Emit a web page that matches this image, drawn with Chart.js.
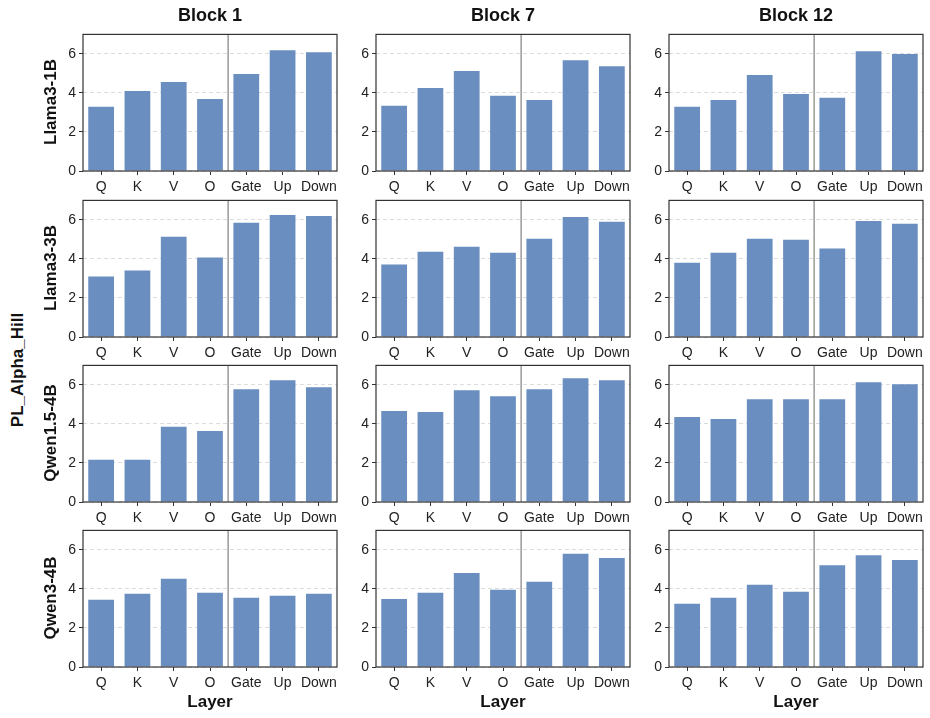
<!DOCTYPE html>
<html>
<head>
<meta charset="utf-8">
<script src="https://cdn.jsdelivr.net/npm/chart.js@4.4.1/dist/chart.umd.min.js"></script>
<style>
body{margin:0;background:#fff;width:930px;height:718px;position:relative;overflow:hidden;font-family:"Liberation Sans",Arial,sans-serif}
canvas{position:absolute}
.lbl{position:absolute;font-weight:bold;color:#111;white-space:nowrap;transform:translate(-50%,-50%);z-index:2}
.rot{transform:translate(-50%,-50%) rotate(-90deg)}
</style>
</head>
<body>
<script>
const layers = ['Q','K','V','O','Gate','Up','Down'];
const blocks = ['Block 1','Block 7','Block 12'];
const models = ['Llama3-1B','Llama3-3B','Qwen1.5-4B','Qwen3-4B'];
const yTicks = [0,2,4,6];

// one row per block (1, 7, 12)
const llama1B = [
  [3.29,4.10,4.56,3.69,4.97,6.19,6.08],
  [3.34,4.25,5.12,3.85,3.64,5.68,5.37],
  [3.29,3.64,4.92,3.95,3.75,6.14,6.00]
];
const llama3B = [
  [3.10,3.41,5.14,4.07,5.85,6.25,6.20],
  [3.71,4.37,4.63,4.32,5.03,6.15,5.90],
  [3.81,4.32,5.03,4.98,4.53,5.95,5.80]
];
const qwen15_4B = [
  [2.17,2.17,3.85,3.64,5.78,6.24,5.88],
  [4.66,4.61,5.73,5.42,5.78,6.34,6.24],
  [4.36,4.25,5.27,5.27,5.27,6.14,6.03]
];
const qwen3_4B = [
  [3.44,3.75,4.52,3.80,3.55,3.65,3.75],
  [3.49,3.80,4.82,3.96,4.37,5.80,5.59],
  [3.24,3.55,4.21,3.86,5.22,5.73,5.48]
];
const allData = [llama1B, llama3B, qwen15_4B, qwen3_4B];

const colLeft = [83,376,669];
const rowTop = [33,199,364,529];
const plotW = 254, plotH = 138;
const padL = 40, padT = 10, padR = 10, padB = 28;
const barColor = '#6a8ebf';

const frame = {
  id:'frame',
  beforeDatasetsDraw(chart){
    const c = chart.ctx, a = chart.chartArea;
    const x = chart.scales.x.getPixelForValue(3.5);
    c.save();
    c.strokeStyle = 'rgba(120,120,120,0.75)';
    c.lineWidth = 1.5;
    c.beginPath(); c.moveTo(x,a.top); c.lineTo(x,a.bottom); c.stroke();
    c.restore();
  },
  afterDraw(chart){
    const c = chart.ctx, a = chart.chartArea;
    c.save();
    c.strokeStyle = '#333';
    c.lineWidth = 1.2;
    c.strokeRect(a.left,a.top,a.right-a.left,a.bottom-a.top);
    c.restore();
  }
};

function addLabel(text, x, y, size, rot){
  const d = document.createElement('div');
  d.className = 'lbl' + (rot ? ' rot' : '');
  d.style.left = x+'px'; d.style.top = y+'px'; d.style.fontSize = size+'px';
  d.textContent = text;
  document.body.appendChild(d);
}

function makePanel(r, c){
  const cv = document.createElement('canvas');
  const w = plotW+padL+padR, h = plotH+padT+padB;
  cv.width = w; cv.height = h;
  cv.style.left = (colLeft[c]-padL)+'px';
  cv.style.top = (rowTop[r]-padT)+'px';
  document.body.appendChild(cv);
  new Chart(cv,{
    type:'bar',
    data:{labels:layers, datasets:[{data:allData[r][c], backgroundColor:barColor, borderWidth:0, categoryPercentage:1, barPercentage:0.71}]},
    options:{
      responsive:false, animation:false, devicePixelRatio:1,
      layout:{padding:{left:0,top:padT,right:padR,bottom:0}},
      plugins:{legend:{display:false}, tooltip:{enabled:false}},
      scales:{
        x:{
          grid:{offset:false, drawOnChartArea:false, drawTicks:true, tickLength:4, tickColor:'#333'},
          border:{display:false},
          ticks:{color:'#222', padding:4, font:{family:'"Liberation Sans", Arial', size:14}, maxRotation:0, autoSkip:false},
          afterFit(s){ s.height = padB; }
        },
        y:{
          min:0, max:7,
          afterBuildTicks(s){ s.ticks = yTicks.map(v=>({value:v})); },
          grid:{color:'#dcdcdc', lineWidth:1, tickLength:4, tickColor:'#333', tickBorderDash:[]},
          border:{display:false, dash:[4,3]},
          ticks:{color:'#222', padding:3, font:{family:'"Liberation Sans", Arial', size:14}},
          afterFit(s){ s.width = padL; }
        }
      }
    },
    plugins:[frame]
  });
}

for(let r=0;r<models.length;r++){
  for(let c=0;c<blocks.length;c++) makePanel(r,c);
}

blocks.forEach((b,c)=>{
  addLabel(b, colLeft[c]+plotW/2, 15, 18, false);
  addLabel('Layer', colLeft[c]+plotW/2, 702, 17, false);
});
models.forEach((m,r)=>addLabel(m, 51, rowTop[r]+plotH/2, 17, true));
addLabel('PL_Alpha_Hill', 18, 370, 17, true);
</script>
</body>
</html>
